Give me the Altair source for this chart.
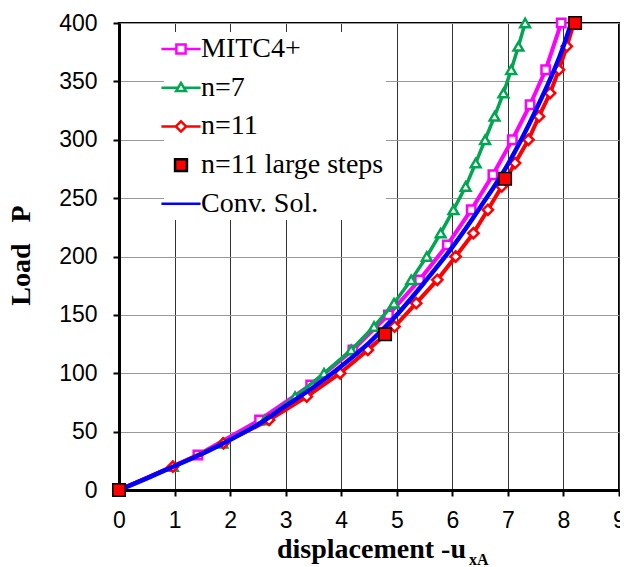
import altair as alt
import pandas as pd

# ---- data ----
mitc_load = [0, 30, 60, 90, 120, 150, 180, 210, 240, 270, 300, 330, 360, 400]
mitc_disp = [0, 1.42, 2.53, 3.45, 4.21, 4.85, 5.41, 5.91, 6.34, 6.73, 7.08, 7.40, 7.68, 7.96]

n7_load = [0, 20, 40, 60, 80, 100, 120, 140, 160, 180, 200, 220, 240, 260, 280, 300, 320, 340, 360, 380, 400]
n7_disp = [0, 0.97, 1.86, 2.62, 3.17, 3.69, 4.18, 4.59, 4.95, 5.26, 5.54, 5.79, 6.02, 6.24, 6.42, 6.59, 6.76, 6.92, 7.06, 7.19, 7.31]

n11_load = [0, 20, 40, 60, 80, 100, 120, 140, 160, 180, 200, 220, 240, 260, 280, 300, 320, 340, 360, 380, 400]
n11_disp = [0, 0.97, 1.88, 2.70, 3.38, 3.98, 4.48, 4.96, 5.35, 5.73, 6.06, 6.38, 6.64, 6.89, 7.13, 7.37, 7.56, 7.76, 7.92, 8.06, 8.19]

large_load = [0, 133.33, 266.67, 400]
large_disp = [0, 4.79, 6.95, 8.21]

conv_disp = [0, 0.5, 1, 1.5, 2, 2.5, 3, 3.5, 4, 4.5, 5, 5.5, 6, 6.5, 7, 7.5, 8, 8.14]
conv_load = [0, 10, 20.5, 31, 43, 56, 72, 88, 106, 126, 150, 178, 208, 242, 279, 325, 380, 400]

series_names = ["MITC4+", "n=7", "n=11", "n=11 large steps", "Conv. Sol."]
series_colors = ["#FF00FF", "#00A651", "#FF0000", "#000000", "#0000FF"]
series_fills = ["white", "white", "white", "#FF0000", "transparent"]

x_ticks = [0, 1, 2, 3, 4, 5, 6, 7, 8, 9]
y_ticks = [0, 50, 100, 150, 200, 250, 300, 350, 400]

# legend symbol paths (line + marker)
legend_paths = [
    "M-1.45,0H-0.34M0.34,0H1.45M-0.34,-0.34H0.34V0.34H-0.34Z",
    "M-1.45,0H-0.2M0.2,0H1.45M0,-0.36L0.36,0.25H-0.36Z",
    "M-1.45,0H-0.38M0.38,0H1.45M0,-0.38L0.38,0L0,0.38L-0.38,0Z",
    "M-0.44,-0.44H0.44V0.44H-0.44Z",
    "M-1.45,0H1.45",
]

xenc = alt.X(
    "d:Q",
    scale=alt.Scale(domain=[0, 9], nice=False, zero=False),
    axis=alt.Axis(
        values=x_ticks, format="d", title=None,
        domainColor="black", domainWidth=3,
        tickColor="black", tickWidth=2, tickSize=6,
        labelFont="Liberation Sans", labelFontSize=23, labelColor="black",
        labelPadding=13, labelFlush=False, labelOverlap=False, labelBound=False,
        grid=True, gridColor="#333333", gridWidth=1,
    ),
)
yenc = alt.Y(
    "p:Q",
    scale=alt.Scale(domain=[0, 400], nice=False),
    axis=alt.Axis(
        values=y_ticks, format="d",
        title="Load\u00a0\u00a0\u00a0P",
        titleFont="Liberation Serif", titleFontSize=28, titleFontWeight="bold",
        titleColor="black", titleAngle=270, titleAlign="center",
        titleBaseline="alphabetic", titleX=-90, titleY=232,
        domainColor="black", domainWidth=3,
        tickColor="black", tickWidth=2, tickSize=6,
        labelFont="Liberation Sans", labelFontSize=23, labelColor="black",
        labelPadding=16, labelFlush=False, labelOverlap=False,
        grid=True, gridColor="#999999", gridWidth=1,
    ),
)

df_mitc = pd.DataFrame({"d": mitc_disp, "p": mitc_load})
df_n7 = pd.DataFrame({"d": n7_disp, "p": n7_load})
df_n11 = pd.DataFrame({"d": n11_disp, "p": n11_load})
df_large = pd.DataFrame({"d": large_disp, "p": large_load})
df_conv = pd.DataFrame({"d": conv_disp, "p": conv_load})


def series_layers(df, color, lw, shape, size, sw):
    ln = alt.Chart(df).mark_line(color=color, strokeWidth=lw).encode(x=xenc, y=yenc)
    pt = alt.Chart(df).mark_point(
        shape=shape, filled=True, fill="white", stroke=color,
        strokeWidth=sw, size=size, opacity=1,
    ).encode(x=xenc, y=yenc)
    return [ln, pt]


layers = []
layers += series_layers(df_mitc, series_colors[0], 4, "square", 70, 2.5)
layers += series_layers(df_n7, series_colors[1], 3.5, "triangle-up", 95, 2.5)
layers += series_layers(df_n11, series_colors[2], 4, "diamond", 105, 2.5)

conv_line = alt.Chart(df_conv).mark_line(
    color=series_colors[4], strokeWidth=4.5, interpolate="monotone"
).encode(x=xenc, y=yenc)
layers.append(conv_line)

large_pts = alt.Chart(df_large).mark_point(
    shape="square", filled=True, fill="#FF0000", stroke="black",
    strokeWidth=1.5, size=155, opacity=1,
).encode(x=xenc, y=yenc)
layers.append(large_pts)

# legend-only layer (no visible marks)
df_leg = pd.DataFrame({"series": series_names, "d": [0] * 5, "p": [0] * 5})
legend_layer = alt.Chart(df_leg).transform_filter("false").mark_point(
    filled=True, opacity=1
).encode(
    x=xenc, y=yenc,
    shape=alt.Shape("series:N", scale=alt.Scale(domain=series_names, range=legend_paths),
                    legend=alt.Legend(title=None)),
    fill=alt.Fill("series:N", scale=alt.Scale(domain=series_names, range=series_fills),
                  legend=alt.Legend(title=None)),
    stroke=alt.Stroke("series:N", scale=alt.Scale(domain=series_names, range=series_colors),
                      legend=alt.Legend(title=None)),
)
layers.append(legend_layer)

# x-axis title with subscript
title_main = alt.Chart(pd.DataFrame({"t": ["displacement -u"]})).mark_text(
    font="Liberation Serif", fontSize=28, fontWeight="bold", align="left",
    baseline="alphabetic", color="black",
).encode(x=alt.value(158), y=alt.value(535), text="t:N")
title_sub = alt.Chart(pd.DataFrame({"t": ["xA"]})).mark_text(
    font="Liberation Serif", fontSize=16, fontWeight="bold", align="left",
    baseline="alphabetic", color="black",
).encode(x=alt.value(350), y=alt.value(542), text="t:N")
layers += [title_main, title_sub]

chart = alt.layer(*layers).properties(
    width=500, height=467,
    padding={"left": 111, "top": 15, "right": 1, "bottom": 77},
    autosize=alt.AutoSizeParams(type="none"),
).configure_view(
    stroke="black", strokeWidth=2
).configure_legend(
    orient="none", legendX=45, legendY=9, padding=2,
    fillColor="white", labelFont="Liberation Serif", labelFontSize=28,
    labelColor="black", symbolSize=729, symbolStrokeWidth=2.5,
    rowPadding=9.7, labelOffset=5, labelLimit=500,
)

chart.save("out.html", embed_options={"renderer": "svg", "actions": False})
